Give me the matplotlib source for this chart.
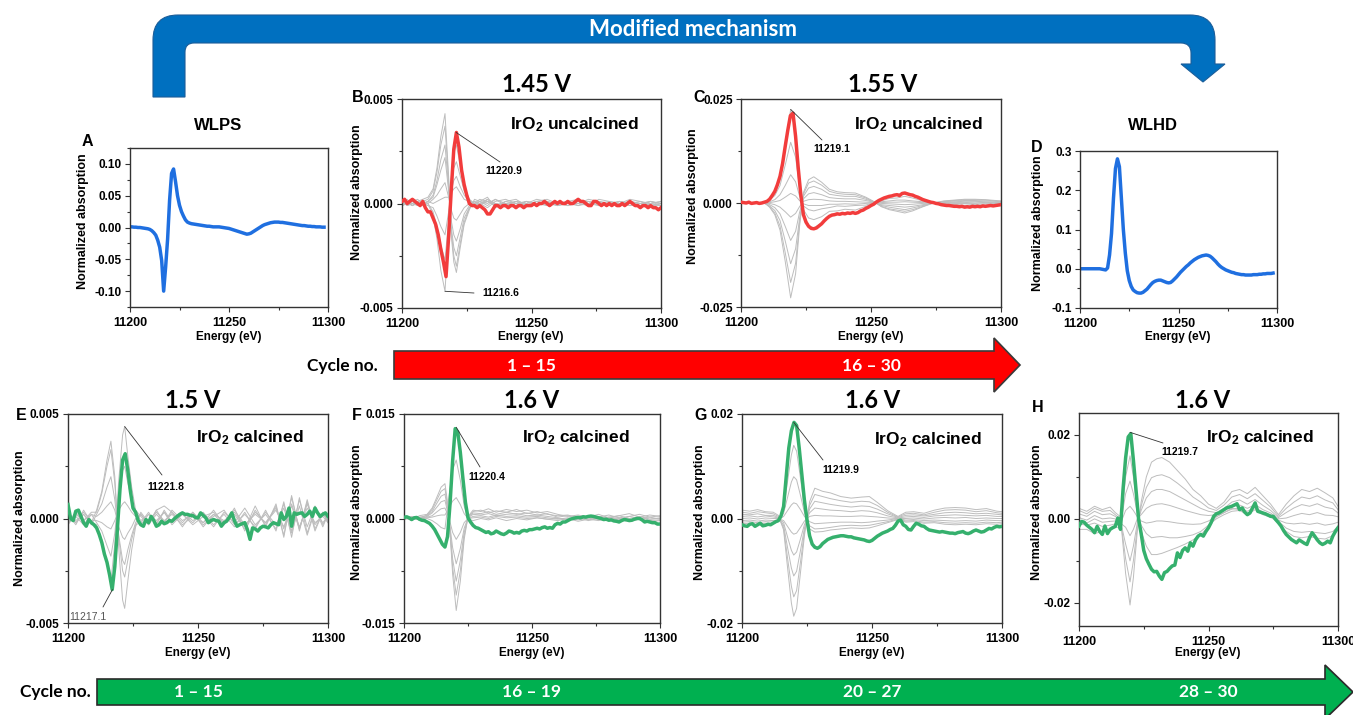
import numpy as np
import matplotlib
matplotlib.use("Agg")
import matplotlib.pyplot as plt
from matplotlib.path import Path
from matplotlib.patches import PathPatch, Polygon
from matplotlib.ticker import MultipleLocator, FuncFormatter

W, H = 1353, 715
plt.rcParams['font.family'] = ['Liberation Sans', 'DejaVu Sans']
plt.rcParams['font.weight'] = 'bold'
plt.rcParams['mathtext.fontset'] = 'custom'
plt.rcParams['mathtext.rm'] = 'Liberation Sans:bold'
plt.rcParams['mathtext.bf'] = 'Liberation Sans:bold'
plt.rcParams['mathtext.it'] = 'Liberation Sans:bold'
plt.rcParams['mathtext.default'] = 'bf'

# ---------------- data ----------------
ENERGY_AD = np.arange(11200, 11299)      # reference spectra grid (eV)
ENERGY = np.arange(11200, 11301)         # difference spectra grid (eV)

# WLPS reference (units of 1e-3)
A_WLPS = [1, 1, 0.5, 0.5, 0, 0, -0.5, -1, -1.5, -2,
          -3, -5, -8, -12, -20, -31, -52, -100, -62, -18,
          43, 85, 92, 72, 50, 35, 25, 18, 12, 8.5,
          7, 6, 5.5, 5, 4.5, 4, 3.5, 3, 2.5, 2,
          2, 1.5, 1, 1, 1, 1, 0.5, 0, -0.5, -1,
          -1.5, -2.5, -3.5, -4.5, -5.5, -6.5, -7.5, -8.5, -9.5, -10.5,
          -10, -9, -7, -5, -3, -1, 1, 3, 4.5, 5.5,
          6.5, 7.5, 8, 8.5, 8.5, 8.5, 8, 8, 7.5, 7,
          6.5, 6, 5.5, 5, 4.5, 4, 3.5, 3, 3, 2.5,
          2, 2, 1.5, 1.5, 1, 1, 1, 0.5, 0.5]

# WLHD reference (units of 1e-3)
D_WLHD = [0, 0, 0, 0, 0, 0, 0, 0, 0, 0,
          0, -1, -2, -3, 2, 35, 90, 180, 255, 280,
          260, 180, 100, 40, -5, -30, -45, -54, -58, -61,
          -62, -62, -60, -56, -52, -46, -40, -35, -32, -30,
          -29, -29, -31, -33, -35, -36, -35, -31, -26, -21,
          -15, -9, -4, 1, 6, 10, 15, 19, 23, 26,
          29, 31, 33, 34, 35, 34, 32, 28, 23, 18,
          12, 7, 3, 0, -3, -5, -7, -9, -10, -12,
          -13, -14, -15, -15, -16, -16, -16, -16, -15, -15,
          -15, -14, -14, -13, -13, -12, -12, -12, -11]

# 1.45 V uncalcined, last cycle (units of 1e-4)
B_RED = [1, 2, 0, 1, 2, 1, 0, -1, 1, -2,
         -4, -4, -7, -10, -15, -22, -28, -35, -16, 6,
         26, 34, 27, 16, 9, 4, 0, -1, -1, -2,
         -1, -2, -3, -5, -5, -3, -1, -1, -2, -1,
         -1, -2, -1, -1, -2, -1, -1, -2, -1, -1,
         -1, 0, -1, 0, 0, 1, 0, -1, 0, 1,
         0, 1, 0, 0, 1, 0, 0, 1, 2, 1,
         1, 0, -1, -1, 1, 1, 0, -1, 0, -1,
         0, -1, 0, -1, -1, 0, -1, 0, 1, 0,
         -1, -1, -2, -1, -1, -2, -1, -2, -2, -3,
         -2]
B_GRID = [11200, 11202, 11204, 11206, 11208, 11210, 11212, 11213.5, 11215, 11216.6,
          11218, 11219, 11220, 11221, 11222.5, 11224, 11226, 11228, 11230, 11233,
          11236, 11240, 11244, 11248, 11252, 11256, 11260, 11264, 11268, 11272,
          11276, 11280, 11284, 11288, 11292, 11296, 11300]
B_CYCLES = [
    [1, 2, -1, 1, 2, 3, 7, 17, 32, 43, 13, -15, -28, -33, -21, -10, -3, 2, 1, 3,
     -2, 1, 2, -1, 1, 2, 0, 1, 2, -1, 2, 1, 0, 2, 1, 0, 1],
    [0, 1, 2, 0, 1, 2, 6, 15, 28, 37, 11, -13, -25, -30, -19, -9, -2, 1, -1, 2,
     0, -1, 1, 0, 2, 1, -1, 0, 1, 1, 0, -1, 1, 0, -1, 1, 0],
    [-1, 0, 1, 2, 0, 1, 4, 11, 21, 28, 8, -11, -21, -25, -16, -7, -2, 0, 2, 1,
     -1, 0, -1, 1, 0, 0, 1, -1, 0, 2, 1, 0, -1, 1, 0, -1, -1],
    [1, -1, 0, 1, -1, 1, 3, 9, 16, 22, 6, -8, -15, -18, -12, -5, -1, 1, 0, -2,
     1, 2, 0, -1, 1, -1, 0, 1, -1, 0, 1, -1, 0, 0, 1, -1, 0],
    [0, 1, -1, 0, 1, 0, 2, 4, 7, 10, 3, -3, -7, -8, -5, -2, 0, -1, 1, 0,
     2, -1, 0, 1, -1, 0, 1, 0, -1, 1, 0, 1, 0, -1, 0, 1, -1],
    [-1, 0, 1, -1, 0, 1, 0, 1, 2, 3, 3, 5, 7, 8, 5, 2, 1, -1, 0, 1,
     -1, 0, 1, -1, 0, 1, -1, 0, 1, 0, -1, 0, 1, 0, -1, 0, 1],
    [1, 0, -1, 1, 0, -1, -2, -6, -11, -15, -4, 6, 11, 13, 8, 4, 1, 0, 1, -1,
     2, 0, -1, 1, 0, -1, 1, 0, 0, -1, 1, 0, -1, 1, 0, -1, 0],
    [0, 1, 0, -1, 1, 0, -4, -11, -20, -27, -8, 9, 17, 20, 13, 6, 2, -1, 0, 2,
     -1, 1, 0, -1, 1, 0, -1, 1, 0, 1, -1, 0, 1, -1, 0, 1, 0],
    [1, -1, 0, 1, -1, 0, -6, -17, -32, -42, -13, 12, 24, 28, 18, 8, 2, 0, -1, 1,
     0, -1, 1, 0, -1, 1, 0, -1, 1, 0, 1, -1, 0, 1, -1, 0, -1],
]
B_MARKS = [(11220.9, 0.0034), (11216.6, -0.0042)]

# 1.55 V uncalcined, last cycle (units of 1e-3)
C_RED = [0.2, 0.1, 0, 0.2, -0.1, 0, 0.1, -0.1, 0, 0.2,
         0.4, 0.9, 1.8, 2.8, 4.4, 6.4, 9.5, 13.6, 17.5, 21,
         21.6, 16, 8.5, 2, -2.8, -4.6, -5.6, -6.1, -6.2, -6,
         -5.5, -5, -4.3, -3.7, -3.2, -2.9, -2.8, -2.6, -2.7, -2.5,
         -2.6, -2.4, -2.5, -2.3, -2.5, -2.3, -1.9, -1.7, -1.3, -1,
         -0.6, -0.3, 0.2, 0.6, 0.9, 1.2, 1.4, 1.6, 1.7, 1.9,
         2, 1.8, 2.3, 2.4, 2.2, 2, 1.9, 1.6, 1.4, 1.1,
         0.8, 0.6, 0.4, 0.2, 0.1, -0.1, -0.2, -0.4, -0.5, -0.6,
         -0.6, -0.7, -0.8, -0.8, -0.9, -0.8, -1, -0.9, -1, -0.8,
         -0.9, -0.8, -0.9, -0.7, -0.8, -0.7, -0.6, -0.7, -0.6, -0.5,
         -0.4]
C_GRID = [11200, 11203, 11206, 11209, 11211, 11213, 11215, 11217, 11219.1, 11221,
          11222.5, 11224, 11226, 11228, 11231, 11234, 11237, 11240, 11244, 11248,
          11251, 11254, 11257, 11260, 11263, 11266, 11270, 11274, 11278, 11282,
          11286, 11290, 11294, 11298, 11300]
C_CYCLES = [
    [0.1, -0.1, 0.2, 0, 1, 2.8, 6.5, 14, 22.5, 17, 5.8, -2.5, -5.4, -6, -4.8, -3.2, -2.8, -2.4,
     -2.5, -1.3, -0.5, 0.9, 1.5, 2.1, 2.3, 1.8, 1, 0.1, -0.4, -0.8, -0.8, -1, -0.7, -0.6, -0.4],
    [0, 0.2, -0.1, 0.1, 0.7, 1.8, 4.2, 9.1, 14.6, 11, 3.8, -1.6, -3.6, -4, -3.3, -2, -1.9, -1.5,
     -1.7, -0.8, -0.2, 0.5, 1.1, 1.2, 1.6, 1.2, 0.5, 0.1, -0.4, -0.4, -0.6, -0.7, -0.5, -0.3, -0.4],
    [-0.1, 0.1, 0, 0.2, 0.3, 0.8, 2, 4.2, 6.8, 5.1, 1.7, -0.7, -1.6, -1.9, -1.4, -1.1, -0.7, -0.8,
     -0.6, -0.5, 0, 0.3, 0.5, 0.7, 0.7, 0.5, 0.3, -0.1, -0.1, -0.3, -0.2, -0.4, -0.2, -0.2, -0.1],
    [0.1, 0, 0.1, -0.1, 0.1, 0.3, 0.6, 1.4, 2.3, 1.7, 0.6, -0.2, -0.6, -0.6, -0.6, -0.3, -0.3, -0.2,
     -0.3, -0.1, 0, 0.1, 0.2, 0.2, 0.3, 0.2, 0.1, 0, 0, -0.1, -0.1, -0.1, 0, -0.1, 0],
    [0, -0.1, 0.1, 0, -0.1, -0.4, -1, -2.1, -3.4, -2.5, -0.9, 0.4, 0.8, 0.9, 0.8, 0.5, 0.4, 0.4,
     0.3, 0.2, 0.1, -0.1, -0.2, -0.3, -0.4, -0.3, -0.1, 0, 0.1, 0.1, 0.1, 0.2, 0.1, 0.1, 0.1],
    [0.1, 0, -0.1, 0.1, -0.4, -1.1, -2.6, -5.6, -9, -6.8, -2.3, 1, 2.2, 2.5, 2, 1.3, 1.1, 1,
     1, 0.6, 0.2, -0.4, -0.6, -0.8, -1, -0.8, -0.4, 0, 0.2, 0.3, 0.4, 0.4, 0.3, 0.2, 0.2],
    [-0.1, 0.1, 0, -0.1, -0.7, -1.8, -4.2, -9.1, -14.6, -11, -3.8, 1.6, 3.6, 4, 3.3, 2.1, 1.8, 1.6,
     1.6, 0.9, 0.3, -0.6, -1, -1.3, -1.6, -1.2, -0.6, 0, 0.3, 0.5, 0.6, 0.6, 0.5, 0.4, 0.3],
    [0, -0.1, 0.1, 0, -0.9, -2.4, -5.5, -11.9, -19.1, -14.5, -4.9, 2.1, 4.8, 5.3, 4.3, 2.8, 2.3, 2.1,
     2, 1.2, 0.3, -0.8, -1.4, -1.7, -2, -1.6, -0.8, 0, 0.4, 0.6, 0.8, 0.8, 0.7, 0.5, 0.4],
    [0.1, 0, -0.1, 0.1, -1, -2.8, -6.5, -14, -22.8, -17, -5.8, 2.5, 5.6, 6.3, 5, 3.3, 2.7, 2.5,
     2.4, 1.4, 0.4, -0.9, -1.6, -2, -2.4, -1.9, -0.9, 0, 0.5, 0.7, 0.9, 0.9, 0.8, 0.6, 0.5],
]
C_MARKS = [(11219.1, 0.0225)]

# 1.5 V calcined, last cycle (units of 1e-4)
E_GREEN = [6.7, 0, -1, 3.5, 4, 1, -2, -3.7, -0.5, -2,
           -3, -4.5, -7.6, -11.5, -17, -21, -27, -34, -23, -5,
           14, 28, 31, 23, 13, 5, 3, -1, -3, -3.7,
           -0.5, -2, 1, -1, -3.7, -3, -1.3, -2.5, -2, -1,
           -1.3, 0, 1, 2, 2.7, 2, 2, 1.5, 1.4, 0.5,
           0.3, 2.7, 1.5, 0.3, -2, -1, -0.5, -1, -1.3, -3.7,
           -2, -1.3, 0.5, 2.7, -1, -3.7, -3, -2.5, -2, -5.3,
           -10, -4.5, -5, -6, -4.5, -3.7, -4, -4.5, -3, -2,
           -2.5, -3, 2.7, -0.5, 1, 5, -3.7, 2.7, 2, 2.5,
           2.7, 1, 2, 3.5, 1, 5, 2.7, 1, 2, 2.7,
           1]
E_GRID = [11200, 11203, 11206, 11209, 11211, 11213, 11215, 11216.5, 11218, 11219.5,
          11221, 11221.8, 11223, 11224.5, 11226, 11228, 11231, 11234, 11237, 11240,
          11244, 11248, 11252, 11256, 11260, 11264, 11268, 11272, 11276, 11280,
          11283, 11286, 11289, 11292, 11295, 11298, 11300]
E_CYCLES = [
    [2, -3, 4, -2, 4, 13, 28, 37, 20, -14, -39, -43, -30, -15, -4, 3, -2, 4, 6, 3,
     -2, 3, -4, 2, -3, 5, -6, 4, -3, 6, -8, 10, -5, 8, -6, 3, -2],
    [-3, 2, -1, 3, 3, 12, 25, 33, 17, -9, -25, -28, -20, -10, -3, -2, 3, -3, 4, -2,
     3, -1, 2, -4, 3, -2, 5, -3, 2, -5, 7, -6, 9, -4, 6, -3, 2],
    [3, -2, 2, -3, 2, 7, 15, 20, 9, -8, -20, -22, -15, -8, -2, 2, -3, 2, -2, 4,
     -1, 2, -3, 1, 4, -3, 2, -4, 3, -3, 5, -7, 6, -8, 4, -2, 1],
    [-2, 3, -1, 2, 1, 3, 6, 8, 4, -4, -9, -10, -7, -4, 0, -3, 2, -1, 3, -2,
     2, -3, 1, 3, -2, 4, -3, 2, -2, 4, -4, 6, -5, 7, -3, 2, -1],
    [1, -2, 3, -1, -1, -2, -4, -5, -1, 4, 7, 8, 6, 3, 1, 2, -2, 3, -1, 2,
     -3, 1, -2, 2, -1, 3, -4, 3, -2, 5, -5, 7, -4, 5, -2, 1, -2],
    [-2, 1, -3, 2, -2, -6, -13, -18, -7, 11, 23, 25, 17, 9, 3, -1, 2, -2, 3, -3,
     2, -2, 3, -3, 2, -4, 3, -5, 4, -6, 8, -9, 10, -7, 5, -4, 2],
    [3, -1, 2, -2, -3, -10, -22, -30, -12, 18, 40, 44, 30, 15, 4, 1, -3, 4, -2, 3,
     -4, 3, -2, 4, -3, 2, -5, 6, -4, 7, -9, 11, -6, 9, -5, 3, -1],
]
E_MARKS = [(11221.8, 0.0044), (11217.1, -0.0034)]

# 1.6 V calcined, cycles 16-19 (units of 1e-3)
F_GREEN = [0.15, 0.25, 0.1, -0.15, 0.1, 0.15, -0.1, -0.25, -0.3, -0.5,
           -0.7, -1.1, -1.6, -2.3, -3, -3.7, -4.1, -2.6, 2.2, 8.3,
           12.9, 12.4, 9.5, 5.8, 2.3, 0.1, -0.5, -1, -1.3, -1.4,
           -1.6, -1.8, -2, -1.9, -2.2, -2.1, -1.8, -2, -2.2, -2.3,
           -2.1, -1.8, -1.9, -2.1, -2, -2.1, -1.8, -1.7, -1.8, -1.6,
           -1.6, -1.5, -1.4, -1.5, -1.3, -1.2, -1.4, -1.3, -1.4, -0.9,
           -0.7, -0.8, -0.5, -0.5, -0.3, -0.1, 0, 0.1, 0.15, 0.1,
           0.25, 0.2, 0.3, 0.35, 0.3, 0.2, 0.1, 0, -0.15, -0.1,
           -0.25, -0.2, -0.35, -0.4, -0.5, -0.3, -0.15, -0.2, -0.3, -0.25,
           -0.1, 0, 0, -0.2, -0.5, -0.4, -0.5, -0.6, -0.6, -0.8,
           -0.8]
F_GRID = [11200, 11203, 11206, 11209, 11211, 11213, 11214.5, 11216, 11217.5, 11219,
          11220.4, 11222, 11223.5, 11225, 11227, 11230, 11233, 11236, 11240, 11244,
          11248, 11252, 11256, 11260, 11264, 11268, 11272, 11276, 11280, 11284,
          11288, 11292, 11296, 11300]
F_CYCLES = [
    [0.2, -0.3, 0.4, 0.6, 1.5, 3.2, 4.5, 5, 1, -8, -13.2, -9, -3, 0.3, 1.2, 1, 1.4,
     0.9, 1.3, 1, 1.2, 0.8, 1, 0.6, 0.3, 0.5, 0.2, 0.6, 0.1, 0.4, 0.7, 0.2, 0.5, 0.3],
    [-0.2, 0.3, 0, 0.5, 1.3, 2.8, 3.9, 4.3, 0.5, -7, -11, -7.5, -2.5, 0.2, 1, 1.2, 0.8,
     1.1, 0.9, 1.3, 0.7, 1, 0.6, 0.4, 0.5, 0.1, 0.4, 0.2, 0.5, 0.1, 0.3, 0.6, 0.2, 0.4],
    [0.3, -0.1, 0.2, 0.4, 1, 2.3, 3.2, 3.5, 0.3, -5.8, -9, -6, -2, 0.2, 0.8, 0.7, 1,
     0.6, 0.9, 0.6, 0.8, 0.5, 0.7, 0.2, 0.4, 0, 0.3, -0.1, 0.2, 0.4, 0, 0.3, -0.1, 0.1],
    [-0.1, 0.2, -0.2, 0.3, 0.8, 1.7, 2.4, 2.6, 0.2, -4.2, -6.5, -4.3, -1.4, 0.1, 0.6, 0.5, 0.7,
     0.4, 0.6, 0.7, 0.4, 0.5, 0.3, 0.1, -0.2, 0.2, -0.1, 0.3, 0, -0.2, 0.3, 0, 0.2, -0.1],
    [0.1, -0.2, 0.1, 0.2, 0.4, 1, 1.4, 1.5, 0.2, -2, -3, -2, -0.6, 0, 0.3, 0.4, 0.2,
     0.5, 0.3, 0.4, 0.2, 0.3, 0.1, -0.1, 0.1, -0.2, 0.1, -0.1, 0.2, 0, -0.2, 0.1, -0.1, 0],
    [-0.1, 0.1, -0.1, 0.1, 0.2, 0.4, 0.5, 0.5, 1.5, 2.5, 3, 2, 0.7, 0, 0.1, 0.2, 0,
     0.3, 0.1, 0.2, 0, 0.1, -0.1, 0, -0.2, 0.1, -0.3, 0, -0.1, 0.1, -0.2, 0, -0.3, -0.2],
    [0, 0.1, -0.2, 0, -0.3, -0.8, -1.3, -1.5, 3, 7, 8.4, 5.5, 1.8, -0.1, -0.3, 0, -0.2,
     0.1, -0.3, 0, -0.2, 0.1, -0.1, -0.3, 0, -0.4, -0.1, -0.3, 0, -0.2, -0.4, -0.1, -0.5, -0.3],
]
F_MARKS = [(11220.4, 0.0131)]

# 1.6 V calcined, cycles 20-27 (units of 1e-3)
G_GREEN = [-1.2, -1.4, -1.5, -1.1, -1, -1.5, -1.2, -0.9, -1.4, -1.3,
           -1.1, -1.2, -0.9, -0.6, -0.4, 0.5, 2.3, 8, 13.5, 16.8,
           18.4, 17.8, 13.5, 8.5, 3.5, -0.3, -3.3, -4.9, -5.5, -5.7,
           -5.4, -4.8, -4.4, -4, -3.8, -3.6, -3.5, -3.4, -3.3, -3.3,
           -3.4, -3.5, -3.5, -3.7, -3.8, -3.9, -4, -4.1, -4.3, -4.4,
           -4.2, -3.8, -3.4, -3.1, -2.8, -2.6, -2.4, -2.1, -1.9, -1.3,
           -0.5, -0.3, -1.2, -1.5, -2.1, -2.2, -1.5, -0.9, -1.1, -1.4,
           -1.5, -1.9, -2.2, -2.3, -2.4, -2.5, -2.6, -2.5, -2.6, -2.7,
           -2.8, -2.8, -2.9, -2.7, -2.6, -2.5, -2.8, -2.9, -2.7, -2.4,
           -2.2, -2.4, -2.6, -2.5, -2.2, -1.9, -2, -1.7, -1.5, -1.6,
           -1.5]
G_GRID = [11200, 11203, 11206, 11209, 11212, 11214, 11216, 11217.5, 11219, 11219.9,
          11221, 11222.5, 11224, 11226, 11228, 11231, 11234, 11238, 11242, 11246,
          11249, 11252, 11256, 11260, 11263, 11266, 11270, 11274, 11278, 11282,
          11286, 11290, 11294, 11298, 11300]
G_CYCLES = [
    [1.6, 1.4, 1.7, 1.3, 1.2, 0.6, -2.2, -9.3, -16.2, -18.7, -17.2, -10.3, -3.3, 3.2, 5.8, 5.2, 4.9, 4.2,
     3.9, 4.1, 4.2, 3.1, 1.5, 0.4, 1.2, 1.3, 1, 1.6, 2, 2.1, 2, 1.7, 1.9, 1.4, 1.3],
    [1.2, 1, 1.3, 1.1, 0.9, 0.4, -1.8, -7.5, -13, -15, -13.8, -8.3, -2.6, 2.5, 4.6, 4.2, 3.8, 3.4,
     3.1, 3.3, 3.2, 2.5, 1.2, 0.3, 0.9, 1, 0.7, 1.2, 1.6, 1.7, 1.6, 1.3, 1.5, 1.1, 1],
    [0.8, 0.7, 0.9, 0.6, 0.6, 0.2, -1.3, -5.5, -9.5, -11, -10.1, -6.1, -1.9, 1.8, 3.3, 3, 2.7, 2.4,
     2.2, 2.4, 2.3, 1.8, 0.9, 0.2, 0.6, 0.7, 0.5, 0.8, 1.1, 1.2, 1.1, 0.9, 1, 0.8, 0.7],
    [0.4, 0.5, 0.3, 0.5, 0.3, 0.1, -0.8, -3.5, -6.1, -7, -6.4, -3.9, -1.2, 1.1, 2, 1.8, 1.6, 1.5,
     1.3, 1.5, 1.4, 1.1, 0.5, 0.1, 0.3, 0.4, 0.2, 0.5, 0.6, 0.7, 0.6, 0.5, 0.6, 0.4, 0.4],
    [0, 0.1, -0.1, 0.1, 0, 0, -0.4, -1.5, -2.6, -3, -2.8, -1.7, -0.5, 0.4, 0.6, 0.5, 0.5, 0.4,
     0.4, 0.5, 0.4, 0.3, 0.1, 0, 0, 0.1, -0.1, 0.1, 0.2, 0.1, 0.2, 0, 0.1, 0, 0],
    [-0.4, -0.3, -0.5, -0.3, -0.4, -0.3, 0.4, 1.5, 2.6, 3, 2.8, 1.7, 0.4, -0.6, -1, -0.9, -0.8, -0.7,
     -0.7, -0.8, -0.7, -0.5, -0.3, 0, -0.3, -0.2, -0.4, -0.3, -0.4, -0.5, -0.4, -0.5, -0.3, -0.4, -0.4],
    [-0.7, -0.6, -0.8, -0.6, -0.7, -0.4, 1, 4, 7, 8, 7.4, 4.4, 1.2, -1.4, -2, -1.9, -1.7, -1.4,
     -1.3, -1.4, -1.3, -1, -0.6, -0.1, -0.5, -0.4, -0.7, -0.6, -0.8, -0.9, -0.8, -0.9, -0.7, -0.8, -0.7],
    [-1, -0.9, -1.1, -0.9, -1, -0.6, 1.8, 7, 12.2, 14, 12.9, 7.7, 2.2, -2, -2.6, -2.5, -2.2, -2,
     -1.8, -1.9, -1.8, -1.4, -0.8, -0.2, -0.7, -0.6, -0.9, -0.8, -1.1, -1.2, -1.1, -1.2, -1, -1.1, -1],
]
G_MARKS = [(11219.9, 0.0184)]

# 1.6 V calcined, cycles 28-30 (units of 1e-3)
H_GREEN = [-1.7, -0.6, -0.8, -1.5, -2, -2.5, -3.3, -1.8, -3, -3.7,
           -1.7, -3.5, -2.5, -2.1, -1.8, 0.2, -2.5, 7, 14.5, 19.5,
           20.3, 14, 7, 0, -3.5, -7.5, -9.5, -10.8, -12, -12.6,
           -12.5, -13.6, -14.4, -12.8, -12.5, -11.8, -11.2, -11, -8.1, -9.2,
           -7.5, -6.9, -7.7, -5.7, -6.5, -5, -4.1, -3.7, -4.1, -3,
           -2.1, -0.9, 0.6, 1.2, 1.4, 1.8, 2.2, 2.6, 2.8, 3,
           3.3, 3.6, 2.2, 2.6, 1.6, 1, 1.4, 2.6, 3.8, 1.8,
           1.6, 1.4, 1.2, 0.9, 0.6, 0.6, -0.2, -0.9, -1.7, -2.8,
           -3.7, -4.3, -4.9, -5.3, -5.7, -5, -5.4, -5.8, -6.1, -4.5,
           -3.3, -4.1, -5, -5.7, -6.1, -5.8, -5.3, -5.7, -4.1, -3,
           -2.1]
H_GRID = [11200, 11203, 11206, 11209, 11212, 11214, 11216, 11218, 11219.7, 11221,
          11222.5, 11224, 11226, 11228, 11230, 11232, 11235, 11238, 11241, 11244,
          11247, 11250, 11253, 11256, 11259, 11262, 11265, 11268, 11271, 11274,
          11277, 11280, 11283, 11286, 11289, 11292, 11295, 11298, 11300]
H_CYCLES = [
    [2.5, 1.8, 3, 2.2, 2.8, 1.5, 0.5, -13, -20.5, -14, -3, 4, 10, 13.5, 14.3, 14.6, 13.5, 11.5, 9.5, 7,
     5.5, 3.5, 2.5, 4, 6.5, 7, 6, 7.5, 5.5, 3.5, 1, 3.5, 5.5, 7, 6.5, 7.3, 6.2, 5, 3],
    [2, 1.2, 2.5, 1.8, 2, 1, 0, -9.5, -15, -10, -2, 3, 7.5, 9.8, 10.3, 10.5, 9.8, 8.5, 7, 5.2,
     4, 2.6, 2, 3.3, 5.2, 5.8, 4.8, 6, 4.4, 2.8, 0.6, 2.5, 4, 5.2, 4.8, 5.5, 4.5, 3.8, 2.2],
    [1.2, 0.6, 1.8, 1, 1.2, 0.6, -0.5, -6, -10, -6.5, -1, 2, 5, 6.5, 7, 7, 6.5, 5.5, 4.5, 3.5,
     2.5, 1.8, 1.5, 2.5, 4, 4.5, 3.5, 4.6, 3.2, 2, 0.3, 1.5, 2.6, 3.4, 3, 3.6, 2.8, 2.4, 1.4],
    [0.3, -0.3, 0.8, 0, 0.2, 0, -1, -2, -4, -2.5, 0, 1, 2.5, 3.2, 3.5, 3.6, 3.2, 2.6, 2, 1.5,
     1, 0.8, 1, 2, 3, 3.3, 2.5, 3.4, 2.2, 1.4, 0, 0.2, 0.8, 1.3, 1, 1.5, 0.9, 0.8, 0.5],
    [-0.5, -1, 0, -0.8, -0.6, -0.5, -1.2, 2, 3, 2, 0.5, -0.5, -1, -0.8, -0.5, -0.5, -0.7, -1, -1.2, -1.3,
     -1.2, -0.5, 0.5, 1.5, 2.3, 2.6, 1.8, 2.8, 1.6, 1, -0.3, -1, -1.2, -1, -1.3, -1, -1.5, -1.2, -0.8],
    [-1.2, -1.5, -1, -1.8, -1.5, -1.2, -1.5, 6, 9, 6, 1.5, -1.5, -3.5, -4.5, -4.3, -4.2, -4.5, -4.5, -4.2, -3.8,
     -3, -1.5, 0, 1, 1.8, 2, 1, 2.2, 1, 0.4, -0.6, -2.2, -3, -3.2, -3, -3.3, -3.5, -3, -1.8],
    [-2.5, -2.5, -3.5, -3, -2.5, -2, -2, 10, 15, 10, 2.5, -3, -6.5, -8.5, -8.5, -8.2, -7.5, -6.8, -6, -5,
     -3.8, -1.8, 0.5, 1.5, 2.5, 2.2, 1, 2.8, 1.2, 0.5, -1, -3, -4.2, -4.5, -4.2, -4.6, -4.8, -4, -2.2],
]
H_MARKS = [(11219.7, 0.0206)]

CYCLES_TOP = ["1 \u2013 15", "16 \u2013 30"]
CYCLES_BOTTOM = ["1 \u2013 15", "16 \u2013 19", "20 \u2013 27", "28 \u2013 30"]

# ---------------- styling ----------------
BLUE = '#1f6fe0'
RED = '#f23c3c'
GREEN = '#35b06d'
GRAY = '#bdbdbd'
LW = 2.5
TITLE_FONT = ['Lato', 'DejaVu Sans']

fig = plt.figure(figsize=(W / 100, H / 100), dpi=100, facecolor='white')
ov = fig.add_axes([0, 0, 1, 1])
ov.set_xlim(0, W)
ov.set_ylim(H, 0)
ov.axis('off')


def T(x, y, s, **kw):
    """Figure-level text placed in pixel coordinates from the top-left."""
    kw.setdefault('ha', 'center')
    kw.setdefault('va', 'center')
    return fig.text(x / W, 1 - y / H, s, **kw)


def fmt(decimals):
    def f(v, _):
        if abs(v) < 1e-12:
            v = 0.0
        return f"{v:.{decimals}f}"
    return FuncFormatter(f)


def panel(box, ylim, major, minor, dec):
    l, t, r, b = box
    ax = fig.add_axes([l / W, 1 - b / H, (r - l) / W, (b - t) / H])
    ax.set_xlim(11200, 11300)
    ax.set_ylim(*ylim)
    ax.xaxis.set_major_locator(MultipleLocator(50))
    ax.xaxis.set_minor_locator(MultipleLocator(25))
    ax.yaxis.set_major_locator(MultipleLocator(major))
    ax.yaxis.set_minor_locator(MultipleLocator(minor))
    ax.yaxis.set_major_formatter(fmt(dec))
    ax.tick_params(which='both', direction='out', width=0.8, color='#333333')
    ax.tick_params(which='major', length=3.5)
    ax.tick_params(which='minor', length=2)
    ax.tick_params(axis='x', labelsize=9, pad=4)
    ax.tick_params(axis='y', labelsize=8.5, pad=2.5)
    for s in ax.spines.values():
        s.set_linewidth(1.0)
        s.set_color('#333333')
    return ax


def mark(ax, pt, end_px, label, text_px, color='black', weight='bold', ha='center'):
    ax.annotate('', xy=pt, xycoords='data', xytext=(end_px[0], H - end_px[1]),
                textcoords='figure pixels',
                arrowprops=dict(arrowstyle='-', color='#333333', lw=0.6,
                                shrinkA=0, shrinkB=0))
    T(text_px[0], text_px[1], label, fontsize=7.5, color=color,
      fontweight=weight, ha=ha)


def gray_family(ax, grid, cycles, scale):
    for c in cycles:
        ax.plot(grid, np.array(c) * scale, color=GRAY, lw=0.7, zorder=1)


# ---- A: WLPS ----
axA = panel((130, 148, 328, 307), (-0.125, 0.125), 0.05, 0.025, 2)
axA.plot(ENERGY_AD, np.array(A_WLPS) * 1e-3, color=BLUE, lw=LW)

# ---- B: 1.45 V ----
axB = panel((402, 99, 661, 308), (-0.005, 0.005), 0.005, 0.0025, 3)
gray_family(axB, B_GRID, B_CYCLES, 1e-4)
axB.plot(ENERGY, np.array(B_RED) * 1e-4, color=RED, lw=LW, zorder=3)
mark(axB, B_MARKS[0], (500, 162), f"{B_MARKS[0][0]:.1f}", (504, 171))
mark(axB, B_MARKS[1], (474, 293), f"{B_MARKS[1][0]:.1f}", (482, 293), ha='left')

# ---- C: 1.55 V ----
axC = panel((741, 99, 1001, 307), (-0.025, 0.025), 0.025, 0.0125, 3)
gray_family(axC, C_GRID, C_CYCLES, 1e-3)
axC.plot(ENERGY, np.array(C_RED) * 1e-3, color=RED, lw=LW, zorder=3)
mark(axC, C_MARKS[0], (822, 140), f"{C_MARKS[0][0]:.1f}", (832, 149))

# ---- D: WLHD ----
axD = panel((1080, 151, 1277, 308), (-0.1, 0.3), 0.1, 0.05, 1)
axD.plot(ENERGY_AD, np.array(D_WLHD) * 1e-3, color=BLUE, lw=LW)

# ---- E: 1.5 V ----
axE = panel((68, 414, 328, 623), (-0.005, 0.005), 0.005, 0.0025, 3)
gray_family(axE, E_GRID, E_CYCLES, 1e-4)
axE.plot(ENERGY, np.array(E_GREEN) * 1e-4, color=GREEN, lw=LW, zorder=3)
mark(axE, E_MARKS[0], (162, 475), f"{E_MARKS[0][0]:.1f}", (166, 487))
mark(axE, E_MARKS[1], (103, 607), f"{E_MARKS[1][0]:.1f}", (88, 617),
     color='#555555', weight='normal')

# ---- F: 1.6 V ----
axF = panel((404, 414, 660, 623), (-0.015, 0.015), 0.015, 0.0075, 3)
gray_family(axF, F_GRID, F_CYCLES, 1e-3)
axF.plot(ENERGY, np.array(F_GREEN) * 1e-3, color=GREEN, lw=LW, zorder=3)
mark(axF, F_MARKS[0], (480, 467), f"{F_MARKS[0][0]:.1f}", (487, 477))

# ---- G: 1.6 V ----
axG = panel((742, 414, 1002, 623), (-0.02, 0.02), 0.02, 0.01, 2)
gray_family(axG, G_GRID, G_CYCLES, 1e-3)
axG.plot(ENERGY, np.array(G_GREEN) * 1e-3, color=GREEN, lw=LW, zorder=3)
mark(axG, G_MARKS[0], (823, 460), f"{G_MARKS[0][0]:.1f}", (841, 470))

# ---- H: 1.6 V ----
axH = panel((1079, 413, 1338, 626), (-0.0255, 0.0252), 0.02, 0.01, 2)
gray_family(axH, H_GRID, H_CYCLES, 1e-3)
axH.plot(ENERGY, np.array(H_GREEN) * 1e-3, color=GREEN, lw=LW, zorder=3)
mark(axH, H_MARKS[0], (1163, 443), f"{H_MARKS[0][0]:.1f}", (1180, 452))

# ---------------- labels ----------------
ylab = [(83, 221), (357, 192), (693, 196), (1038, 223),
        (20, 518), (357, 512), (700, 512), (1037, 512)]
for x, y in ylab:
    T(x, y, 'Normalized absorption', rotation=90, fontsize=9)

xlab = [(229, 337), (531, 337), (871, 337), (1178, 337),
        (198, 653), (532, 653), (872, 653), (1208, 653)]
for x, y in xlab:
    T(x, y, 'Energy (eV)', fontsize=8.5)

letters = [('A', 87, 141), ('B', 358, 98), ('C', 699, 98), ('D', 1037, 147),
           ('E', 21, 415), ('F', 357, 415), ('G', 701, 415), ('H', 1038, 407)]
for s, x, y in letters:
    T(x, y, s, fontsize=11.5)

T(218, 126, 'WLPS', fontsize=12)
T(1153, 126, 'WLHD', fontsize=12)

titles = [('1.45 V', 537, 84), ('1.55 V', 883, 84), ('1.5 V', 193, 400),
          ('1.6 V', 532, 400), ('1.6 V', 873, 400), ('1.6 V', 1203, 400)]
for s, x, y in titles:
    T(x, y, s, fontsize=17, family=TITLE_FONT, fontweight='bold')

inset = [('IrO$_2$ uncalcined', 574, 125), ('IrO$_2$ uncalcined', 918, 125),
         ('IrO$_2$ calcined', 250, 438), ('IrO$_2$ calcined', 576, 438),
         ('IrO$_2$ calcined', 928, 440), ('IrO$_2$ calcined', 1260, 438)]
for s, x, y in inset:
    T(x, y, s, fontsize=12.5)

# ---------------- arrows ----------------
M, L, C3, CL = Path.MOVETO, Path.LINETO, Path.CURVE3, Path.CLOSEPOLY
verts = [(153, 97), (153, 40), (153, 15), (178, 15),
         (1190, 15), (1215, 15), (1215, 40),
         (1215, 64), (1225, 64), (1203, 82), (1181, 64), (1191, 64),
         (1191, 53), (1191, 43), (1181, 43),
         (194, 43), (185, 43), (185, 52),
         (185, 97), (153, 97)]
codes = [M, L, C3, C3, L, C3, C3, L, L, L, L, L, L, C3, C3, L, C3, C3, L, CL]
ov.add_patch(PathPatch(Path(verts, codes), facecolor='#0070c0',
                       edgecolor='#1b5d99', lw=0.8))
T(693, 30, 'Modified mechanism', fontsize=16, family=TITLE_FONT,
  fontweight='bold', color='white')

red_arrow = [(394, 351), (994, 351), (994, 338), (1020, 365),
             (994, 392), (994, 379), (394, 379)]
ov.add_patch(Polygon(red_arrow, closed=True, facecolor='#ff0000',
                     edgecolor='#3a3a3a', lw=1.2))
T(342, 366, 'Cycle no.', fontsize=12.5, family=TITLE_FONT, fontweight='bold')
for s, x in zip(CYCLES_TOP, [531, 871]):
    T(x, 366, s, fontsize=12.5, family=TITLE_FONT, fontweight='bold',
      color='white')

green_arrow = [(97, 679), (1325, 679), (1325, 665), (1353, 692),
               (1325, 719), (1325, 705), (97, 705)]
ov.add_patch(Polygon(green_arrow, closed=True, facecolor='#00b050',
                     edgecolor='#2a2a2a', lw=1.2, clip_on=False))
T(55, 692, 'Cycle no.', fontsize=12.5, family=TITLE_FONT, fontweight='bold')
for s, x in zip(CYCLES_BOTTOM, [198, 532, 872, 1208]):
    T(x, 692, s, fontsize=12.5, family=TITLE_FONT, fontweight='bold',
      color='white')

fig.savefig('out.png', dpi=100, facecolor='white')
